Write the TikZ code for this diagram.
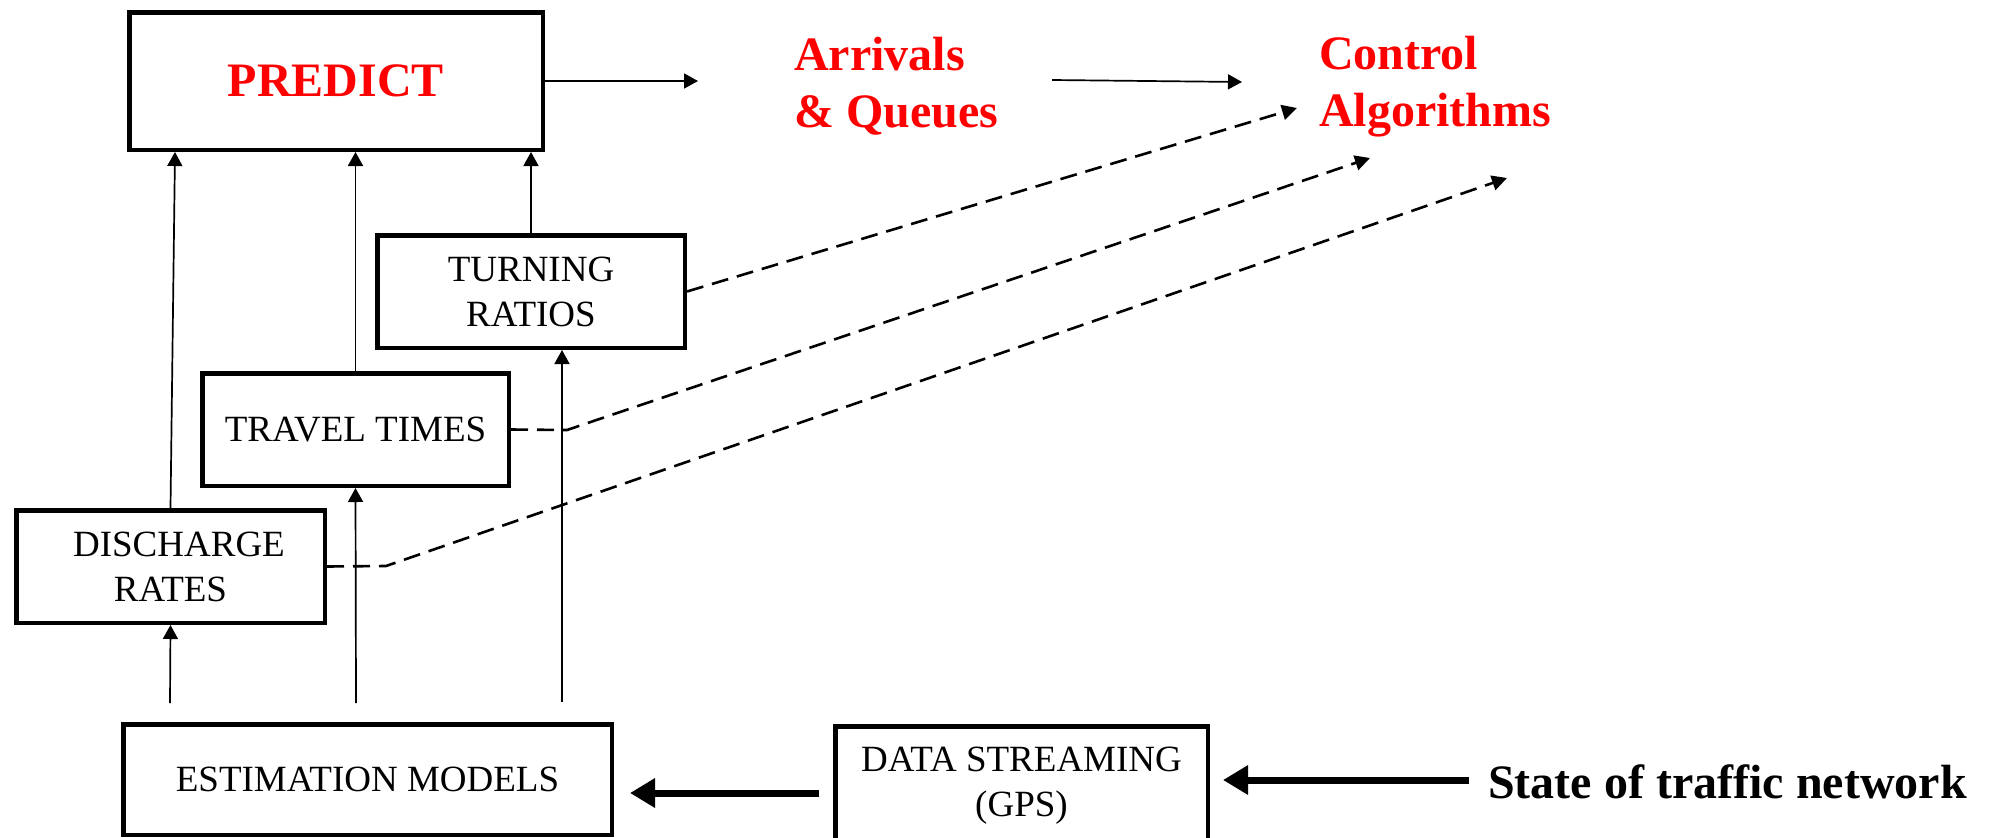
\documentclass[tikz,border=0pt]{standalone}
\usepackage{fontspec}
\setmainfont{Liberation Serif}
\usetikzlibrary{arrows.meta,calc}

\begin{document}
\begin{tikzpicture}[x=1pt,y=-1pt,
  box/.style={draw, line width=4.5pt, inner sep=0pt, align=center,
              font=\fontsize{37}{45}\selectfont},
  title/.style={text=red, inner sep=0pt, align=left,
              font=\fontsize{48}{57}\selectfont\bfseries},
  up/.style={line width=1.7pt, -{Triangle[length=14pt,width=15pt]}},
  link/.style={line width=2.6pt, dash pattern=on 17pt off 9pt,
              -{Triangle[length=15pt,width=15pt]}},
  fat/.style={line width=7pt, -{Triangle[length=25pt,width=28pt]}}
]
\useasboundingbox (0,0) rectangle (1998,838);
\clip (0,0) rectangle (1998,838);

% boxes
\node[box, minimum width=413.5pt, minimum height=137.5pt,
      text=red, font=\fontsize{48}{57}\selectfont\bfseries] (pred) at (336,81) {PREDICT};
\node[box, minimum width=307.5pt, minimum height=112.5pt] (turn) at (531,291.5) {TURNING\\RATIOS};
\node[box, minimum width=306.5pt, minimum height=112.5pt] (trav) at (355.5,429.5) {TRAVEL TIMES};
\node[box, minimum width=308.5pt, minimum height=112.5pt] (dis) at (170.5,566.5) {\hspace*{17pt}DISCHARGE\\RATES};
\node[box, minimum width=488.5pt, minimum height=110.5pt] (est) at (367.5,779.5) {ESTIMATION MODELS};
\node[box, minimum width=372.5pt, minimum height=119.5pt] (data) at (1021.5,786) {DATA STREAMING\\(GPS)};

% outputs and input
\node[title, anchor=west] (arr) at (794,86) {Arrivals\\\& Queues};
\node[title, anchor=west] (ctl) at (1319,87) {Control\\Algorithms};
\node[inner sep=0pt, anchor=base west, font=\fontsize{48}{57}\selectfont\bfseries] (state) at (1488,798) {State of traffic network};

% free ends of the connectors
\coordinate (d0) at (170,703);
\coordinate (t0) at (356,703);
\coordinate (r0) at (562,702);
\coordinate (a1) at (698,81);
\coordinate (c0) at (1052,80);
\coordinate (c1) at (1242,82);
\coordinate (k1) at (1297,108);
\coordinate (j2) at (567,430);
\coordinate (k2) at (1370,158);
\coordinate (j3) at (386,566);
\coordinate (k3) at (1507,178);

% estimates feeding the prediction
\draw[up] (d0) -- (dis.south);
\draw[up] (dis.north) -- (175,0 |- pred.south);
\draw[up] (t0) -- (trav.south);
\draw[up] (trav.north) -- (trav.north |- pred.south);
\draw[up] (r0) -- (562,0 |- turn.south);
\draw[up] (turn.north) -- (turn.north |- pred.south);

% prediction chain
\draw[up] (pred.east) -- (a1);
\draw[up] (c0) -- (c1);

% estimates sent to control
\draw[link] (turn.east) -- (k1);
\draw[link] (trav.east) -- (j2) -- (k2);
\draw[link] (dis.east) -- (j3) -- (k3);

% data flow
\draw[fat, shorten <=14pt, shorten >=16pt] (data.west |- 0,793) -- (est.east |- 0,793);
\draw[fat, shorten <=19pt, shorten >=13pt] (state.west |- 0,780) -- (data.east |- 0,780);
\end{tikzpicture}
\end{document}
